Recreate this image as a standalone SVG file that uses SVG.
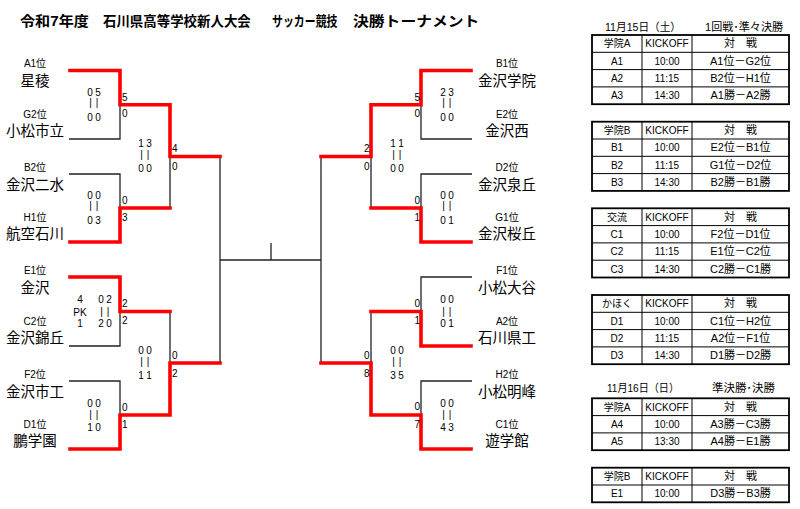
<svg xmlns="http://www.w3.org/2000/svg" width="800" height="509" viewBox="0 0 800 509">
<style>
text{font-family:"Liberation Sans","Noto Sans CJK JP",sans-serif;fill:#000}
.title{font-size:14px;font-weight:bold}
.pos{font-size:10px;text-anchor:middle}
.name{font-size:14.5px;text-anchor:middle}
.sc{font-size:10px;text-anchor:middle}
.wn{font-size:10px}
.wr{font-size:10px;text-anchor:end}
.bk{fill:none;stroke:#222;stroke-width:1.3}
.rd{fill:none;stroke:#ff0000;stroke-width:3.6;stroke-linejoin:miter;stroke-linecap:square}
.tb{font-size:10px;text-anchor:middle}
.tm{font-size:11px;text-anchor:middle}
.hd{font-size:11px}
.outer{fill:none;stroke:#000;stroke-width:1.8}
.inner{fill:none;stroke:#000;stroke-width:1}
</style>

<g id="title">
<text class="title" transform="translate(20,26) scale(1.08,1)">令和7年度</text>
<text class="title" transform="translate(103,26) scale(0.96,1)">石川県高等学校新人大会</text>
<text class="title" transform="translate(272,26) scale(0.78,1)">サッカー競技</text>
<text class="title" transform="translate(353,26) scale(1.13,1)">決勝トーナメント</text>
</g>

<g id="connectors">
<path class="bk" d="M69,139H120V104.75 M69,174H120V208 M69,346H120V311.5 M69,381H120V415 M170,208V156.5 M170,311.5V363 M220,156.5V363 M220,260H321 M271,243V260 M321,156.5V363 M472,139H421V104.75 M472,174H421V208 M472,277H421V311.5 M472,381H421V415 M371,208V156.5 M371,311.5V363"/>
<path class="rd" d="M70,70.5H120V104.75H170V156.5H220"/>
<path class="rd" d="M70,242H120V208H170"/>
<path class="rd" d="M70,277H120V311.5H170"/>
<path class="rd" d="M70,449H120V415H170V363H220"/>
<path class="rd" d="M471,70.5H421V104.75H371V156.5H321"/>
<path class="rd" d="M471,242H421V208H371"/>
<path class="rd" d="M471,346H421V311.5H371"/>
<path class="rd" d="M471,449H421V415H371V363H321"/>
</g>

<g id="team-A1"><text class="pos" x="35" y="67">A1位</text><text class="name" x="35" y="86">星稜</text></g>
<g id="team-G2"><text class="pos" x="35" y="118">G2位</text><text class="name" x="35" y="136">小松市立</text></g>
<g id="team-B2"><text class="pos" x="35" y="170.5">B2位</text><text class="name" x="35" y="189.5">金沢二水</text></g>
<g id="team-H1"><text class="pos" x="35" y="221">H1位</text><text class="name" x="35" y="239">航空石川</text></g>
<g id="team-E1"><text class="pos" x="35" y="273.5">E1位</text><text class="name" x="35" y="292.5">金沢</text></g>
<g id="team-C2"><text class="pos" x="35" y="325">C2位</text><text class="name" x="35" y="343">金沢錦丘</text></g>
<g id="team-F2"><text class="pos" x="35" y="377.5">F2位</text><text class="name" x="35" y="396.5">金沢市工</text></g>
<g id="team-D1"><text class="pos" x="35" y="428">D1位</text><text class="name" x="35" y="446">鵬学園</text></g>

<g id="team-B1"><text class="pos" x="507" y="67">B1位</text><text class="name" x="507" y="86">金沢学院</text></g>
<g id="team-E2"><text class="pos" x="507" y="118">E2位</text><text class="name" x="507" y="136">金沢西</text></g>
<g id="team-D2"><text class="pos" x="507" y="170.5">D2位</text><text class="name" x="507" y="189.5">金沢泉丘</text></g>
<g id="team-G1"><text class="pos" x="507" y="221">G1位</text><text class="name" x="507" y="239">金沢桜丘</text></g>
<g id="team-F1"><text class="pos" x="507" y="273.5">F1位</text><text class="name" x="507" y="292.5">小松大谷</text></g>
<g id="team-A2"><text class="pos" x="507" y="325">A2位</text><text class="name" x="507" y="343">石川県工</text></g>
<g id="team-H2"><text class="pos" x="507" y="377.5">H2位</text><text class="name" x="507" y="396.5">小松明峰</text></g>
<g id="team-C1"><text class="pos" x="507" y="428">C1位</text><text class="name" x="507" y="446">遊学館</text></g>

<g id="scores">
<text class="sc" x="90 98" y="95.5">05</text><text class="sc" x="90.5 97" y="106">||</text><text class="sc" x="90 98" y="120.5">00</text>
<text class="sc" x="90 98" y="198.5">00</text><text class="sc" x="90.5 97" y="209">||</text><text class="sc" x="90 98" y="223.5">03</text>
<text class="sc" x="80" y="303">4</text><text class="sc" x="80" y="315.5">PK</text><text class="sc" x="80" y="327">1</text>
<text class="sc" x="101 109" y="303">02</text><text class="sc" x="101.5 108" y="314.5">||</text><text class="sc" x="101 109" y="327">20</text>
<text class="sc" x="90 98" y="407">00</text><text class="sc" x="90.5 97" y="418">||</text><text class="sc" x="90 98" y="431">10</text>
<text class="sc" x="141 149" y="147">13</text><text class="sc" x="141.5 148" y="158">||</text><text class="sc" x="141 149" y="171.5">00</text>
<text class="sc" x="141 149" y="353.5">00</text><text class="sc" x="141.5 148" y="365">||</text><text class="sc" x="141 149" y="378.5">11</text>
<text class="sc" x="443 451" y="95.5">23</text><text class="sc" x="443.5 450" y="106">||</text><text class="sc" x="443 451" y="120.5">00</text>
<text class="sc" x="443 451" y="198.5">00</text><text class="sc" x="443.5 450" y="209">||</text><text class="sc" x="443 451" y="223.5">01</text>
<text class="sc" x="443 451" y="303">00</text><text class="sc" x="443.5 450" y="314.5">||</text><text class="sc" x="443 451" y="327">01</text>
<text class="sc" x="443 451" y="406.5">00</text><text class="sc" x="443.5 450" y="418">||</text><text class="sc" x="443 451" y="431">43</text>
<text class="sc" x="393 401" y="147">11</text><text class="sc" x="393.5 400" y="158">||</text><text class="sc" x="393 401" y="171.5">00</text>
<text class="sc" x="393 401" y="353.5">00</text><text class="sc" x="393.5 400" y="365">||</text><text class="sc" x="393 401" y="378.5">35</text>
<text class="wn" x="122" y="100.5">5</text><text class="wn" x="122" y="116.5">0</text>
<text class="wn" x="122" y="203.5">0</text><text class="wn" x="122" y="221">3</text>
<text class="wn" x="122" y="306.5">2</text><text class="wn" x="122" y="323.5">2</text>
<text class="wn" x="122" y="410.5">0</text><text class="wn" x="122" y="427.5">1</text>
<text class="wn" x="172" y="152">4</text><text class="wn" x="172" y="169.5">0</text>
<text class="wn" x="172" y="358.5">0</text><text class="wn" x="172" y="376.5">2</text>
<text class="wr" x="420" y="100.5">5</text><text class="wr" x="420" y="116.5">0</text>
<text class="wr" x="420" y="203.5">0</text><text class="wr" x="420" y="221">1</text>
<text class="wr" x="420" y="306.5">0</text><text class="wr" x="420" y="324">1</text>
<text class="wr" x="420" y="410">0</text><text class="wr" x="420" y="427.5">7</text>
<text class="wr" x="369.5" y="152">2</text><text class="wr" x="369.5" y="169.5">0</text>
<text class="wr" x="369.5" y="358.5">0</text><text class="wr" x="369.5" y="376.5">8</text>
</g>

<g id="schedule">
<text class="hd" x="605" y="30.5" textLength="76" lengthAdjust="spacingAndGlyphs">11月15日（土）</text>
<text class="hd" x="705" y="30.5" textLength="78" lengthAdjust="spacingAndGlyphs">1回戦･準々決勝</text>
<text class="hd" x="607" y="392" textLength="72" lengthAdjust="spacingAndGlyphs">11月16日（日）</text>
<text class="hd" x="712" y="392" textLength="63" lengthAdjust="spacingAndGlyphs">準決勝･決勝</text>

<g id="table-A">
<rect class="outer" x="592" y="35" width="197" height="69.2"/>
<path class="inner" d="M642,35V104.2 M692,35V104.2 M592,52.3H789 M592,69.6H789 M592,86.9H789"/>
<text class="tb" x="617" y="47.4">学院A</text><text class="tb" x="667" y="47.4">KICKOFF</text><text class="tm" x="740.5" y="47.4">対　戦</text>
<text class="tb" x="617" y="64.7">A1</text><text class="tb" x="667" y="64.7">10:00</text><text class="tm" x="740.5" y="64.7">A1位－G2位</text>
<text class="tb" x="617" y="82">A2</text><text class="tb" x="667" y="82">11:15</text><text class="tm" x="740.5" y="82">B2位－H1位</text>
<text class="tb" x="617" y="99.3">A3</text><text class="tb" x="667" y="99.3">14:30</text><text class="tm" x="740.5" y="99.3">A1勝－A2勝</text>
</g>
<g id="table-B">
<rect class="outer" x="592" y="121.7" width="197" height="69.2"/>
<path class="inner" d="M642,121.7V190.9 M692,121.7V190.9 M592,139H789 M592,156.3H789 M592,173.6H789"/>
<text class="tb" x="617" y="134.1">学院B</text><text class="tb" x="667" y="134.1">KICKOFF</text><text class="tm" x="740.5" y="134.1">対　戦</text>
<text class="tb" x="617" y="151.4">B1</text><text class="tb" x="667" y="151.4">10:00</text><text class="tm" x="740.5" y="151.4">E2位－B1位</text>
<text class="tb" x="617" y="168.7">B2</text><text class="tb" x="667" y="168.7">11:15</text><text class="tm" x="740.5" y="168.7">G1位－D2位</text>
<text class="tb" x="617" y="186">B3</text><text class="tb" x="667" y="186">14:30</text><text class="tm" x="740.5" y="186">B2勝－B1勝</text>
</g>
<g id="table-C">
<rect class="outer" x="592" y="208.3" width="197" height="69.2"/>
<path class="inner" d="M642,208.3V277.5 M692,208.3V277.5 M592,225.6H789 M592,242.9H789 M592,260.2H789"/>
<text class="tb" x="617" y="220.7">交流</text><text class="tb" x="667" y="220.7">KICKOFF</text><text class="tm" x="740.5" y="220.7">対　戦</text>
<text class="tb" x="617" y="238">C1</text><text class="tb" x="667" y="238">10:00</text><text class="tm" x="740.5" y="238">F2位－D1位</text>
<text class="tb" x="617" y="255.3">C2</text><text class="tb" x="667" y="255.3">11:15</text><text class="tm" x="740.5" y="255.3">E1位－C2位</text>
<text class="tb" x="617" y="272.6">C3</text><text class="tb" x="667" y="272.6">14:30</text><text class="tm" x="740.5" y="272.6">C2勝－C1勝</text>
</g>
<g id="table-D">
<rect class="outer" x="592" y="295" width="197" height="69.2"/>
<path class="inner" d="M642,295V364.2 M692,295V364.2 M592,312.3H789 M592,329.6H789 M592,346.9H789"/>
<text class="tb" x="617" y="307.4">かほく</text><text class="tb" x="667" y="307.4">KICKOFF</text><text class="tm" x="740.5" y="307.4">対　戦</text>
<text class="tb" x="617" y="324.7">D1</text><text class="tb" x="667" y="324.7">10:00</text><text class="tm" x="740.5" y="324.7">C1位－H2位</text>
<text class="tb" x="617" y="342">D2</text><text class="tb" x="667" y="342">11:15</text><text class="tm" x="740.5" y="342">A2位－F1位</text>
<text class="tb" x="617" y="359.3">D3</text><text class="tb" x="667" y="359.3">14:30</text><text class="tm" x="740.5" y="359.3">D1勝－D2勝</text>
</g>
<g id="table-E">
<rect class="outer" x="592" y="398.3" width="197" height="51.9"/>
<path class="inner" d="M642,398.3V450.2 M692,398.3V450.2 M592,415.6H789 M592,432.9H789"/>
<text class="tb" x="617" y="410.7">学院A</text><text class="tb" x="667" y="410.7">KICKOFF</text><text class="tm" x="740.5" y="410.7">対　戦</text>
<text class="tb" x="617" y="428">A4</text><text class="tb" x="667" y="428">10:00</text><text class="tm" x="740.5" y="428">A3勝－C3勝</text>
<text class="tb" x="617" y="445.3">A5</text><text class="tb" x="667" y="445.3">13:30</text><text class="tm" x="740.5" y="445.3">A4勝－E1勝</text>
</g>
<g id="table-F">
<rect class="outer" x="592" y="467.7" width="197" height="34.6"/>
<path class="inner" d="M642,467.7V502.3 M692,467.7V502.3 M592,485H789"/>
<text class="tb" x="617" y="480.1">学院B</text><text class="tb" x="667" y="480.1">KICKOFF</text><text class="tm" x="740.5" y="480.1">対　戦</text>
<text class="tb" x="617" y="497.4">E1</text><text class="tb" x="667" y="497.4">10:00</text><text class="tm" x="740.5" y="497.4">D3勝－B3勝</text>
</g>
</g>
</svg>
